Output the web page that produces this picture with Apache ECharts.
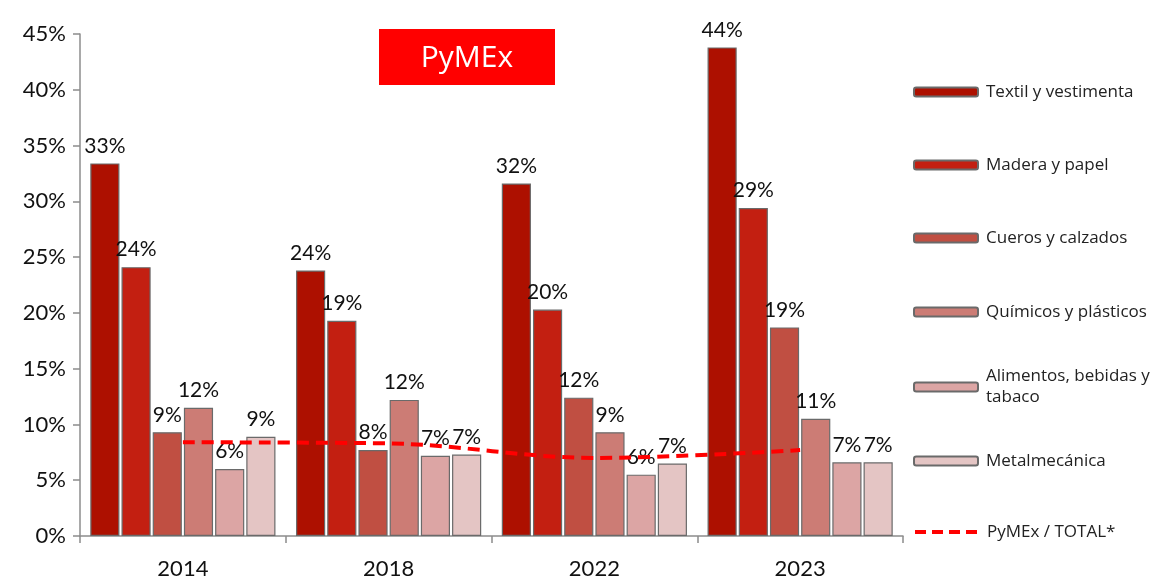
<!DOCTYPE html>
<html>
<head>
<meta charset="utf-8">
<script src="https://cdn.jsdelivr.net/npm/echarts@6/dist/echarts.min.js"></script>
<style>
  html, body { margin: 0; padding: 0; background: #fff; }
  #chart { width: 1162px; height: 581px; }
</style>
</head>
<body>
<div id="chart"></div>
<script>
// data (percent)
const years = ['2014', '2018', '2022', '2023'];
const textil = [33.4, 23.8, 31.6, 43.8];
const madera = [24.1, 19.3, 20.3, 29.4];
const cueros = [9.3, 7.7, 12.4, 18.7];
const quimicos = [11.5, 12.2, 9.3, 10.5];
const alimentos = [6.0, 7.2, 5.5, 6.6];
const metal = [8.9, 7.3, 6.5, 6.6];
const pymexTotal = [8.4, 8.3, 7.0, 7.7];
const yTicks = [0, 5, 10, 15, 20, 25, 30, 35, 40, 45];

const names = ['Textil y vestimenta', 'Madera y papel', 'Cueros y calzados',
  'Químicos y plásticos', 'Alimentos, bebidas y\ntabaco', 'Metalmecánica'];
const lineName = 'PyMEx / TOTAL*';
const colors = ['#AD1000', '#C31F11', '#C04F42', '#CC7C75', '#DCA5A4', '#E4C5C4'];
const barData = [textil, madera, cueros, quimicos, alimentos, metal];

const font = 'Lato, "Open Sans", sans-serif';

const barSeries = barData.map((d, i) => ({
  name: names[i],
  type: 'bar',
  data: d,
  barCategoryGap: '10%',
  barGap: '7%',
  itemStyle: { color: colors[i], borderColor: '#6a6a6a', borderWidth: 1.2 },
  label: {
    show: true,
    position: 'top',
    distance: 7,
    color: '#111',
    fontFamily: font,
    fontSize: 21,
    formatter: p => Math.round(p.value) + '%'
  },
  z: 2
}));

// one legend per item so the spacing matches the reference
const legendCenters = [92, 165, 238, 312, 387, 461, 532];
const legends = names.concat([lineName]).map((n, i) => {
  const multi = n.indexOf('\n') >= 0;
  const lg = {
    data: [n],
    orient: 'vertical',
    left: 913,
    top: multi ? legendCenters[i] - 31.5 : legendCenters[i] - 10.5,
    padding: 0,
    itemWidth: 64,
    itemHeight: 9,
    selectedMode: false,
    textStyle: {
      fontFamily: '"Open Sans", sans-serif',
      fontSize: 17,
      lineHeight: 21,
      color: '#222',
      padding: multi ? [21, 0, 0, 3] : [0, 0, 0, 3]
    }
  };
  if (n === lineName) {
    lg.itemHeight = 14;
    lg.itemStyle = { opacity: 0 };
    lg.lineStyle = { width: 4, type: [11, 6], color: '#FF0000' };
  }
  return lg;
});

const chart = echarts.init(document.getElementById('chart'));
chart.setOption({
  animation: false,
  backgroundColor: '#fff',
  grid: { left: 80, right: 259, top: 34, bottom: 45, containLabel: false },
  legend: legends,
  xAxis: {
    type: 'category',
    data: years,
    axisLine: { lineStyle: { color: '#8c8c8c', width: 1.5 } },
    axisTick: { show: true, length: 7, lineStyle: { color: '#8c8c8c', width: 1.5 } },
    axisLabel: { color: '#111', fontFamily: font, fontSize: 22, margin: 22 }
  },
  yAxis: {
    type: 'value',
    min: yTicks[0],
    max: yTicks[yTicks.length - 1],
    interval: 5,
    axisLine: { show: true, lineStyle: { color: '#8c8c8c', width: 1.5 } },
    axisTick: { show: true, length: 7, lineStyle: { color: '#8c8c8c', width: 1.5 } },
    splitLine: { show: false },
    axisLabel: { color: '#111', fontFamily: font, fontSize: 22, margin: 14, formatter: '{value}%' }
  },
  series: barSeries.concat([{
    name: lineName,
    type: 'line',
    data: pymexTotal,
    smooth: 0.35,
    symbol: 'none',
    lineStyle: { color: '#FF0000', width: 4, type: [12, 7] },
    itemStyle: { color: '#FF0000' },
    z: 5
  }]),
  graphic: [{
    type: 'group',
    left: 379,
    top: 29,
    children: [
      { type: 'rect', shape: { x: 0, y: 0, width: 176, height: 56 }, style: { fill: '#FF0000' } },
      { type: 'text', x: 88, y: 29, style: { text: 'PyMEx', fill: '#fff', font: '30px "Open Sans", sans-serif', align: 'center', verticalAlign: 'middle' } }
    ]
  }]
});
</script>
</body>
</html>
